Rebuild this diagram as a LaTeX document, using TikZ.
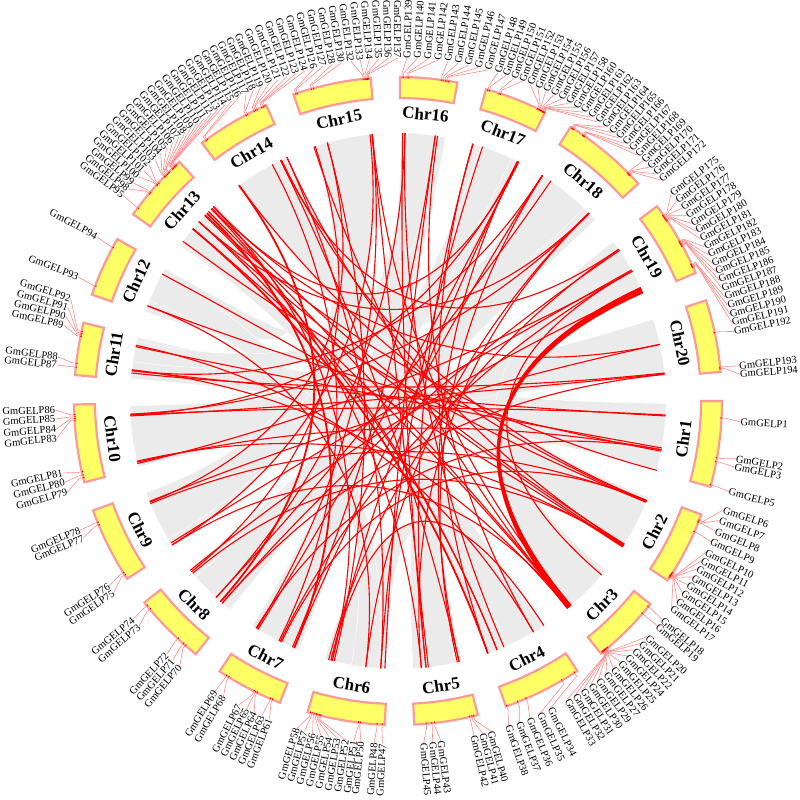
\documentclass[tikz,border=0pt]{standalone}
\usepackage{fontspec}
\setmainfont{Liberation Serif}
\definecolor{chrfill}{HTML}{FFFF66}
\definecolor{chredge}{HTML}{FF9999}
\definecolor{glinec}{HTML}{FF8C8C}
\definecolor{ribc}{HTML}{EBEBEB}
\definecolor{linkc}{HTML}{FF0000}
\tikzset{
  chrbox/.style={fill=chrfill,draw=chredge,line width=2.2pt},
  chrlabel/.style={font=\fontsize{17}{17}\selectfont\bfseries,inner sep=0pt},
  glabel/.style={font=\fontsize{10.5}{10.5}\selectfont,inner sep=0pt},
  gline/.style={draw=glinec,line width=0.6pt},
  gtick/.style={draw=linkc,line width=0.8pt},
  redlink/.style={draw=linkc,line width=1.1pt},
  thicklink/.style={line width=2.6pt},
  midlink/.style={line width=1.8pt},
  ribbon/.style={fill=ribc,draw=white,line width=0.4pt}
}
\newcommand\glab[3]{%
  \pgfmathsetmacro\gcos{cos(#2)}%
  \ifdim\gcos pt<0pt
    \pgfmathsetmacro\grot{#2+180}%
    \node[glabel,anchor=east,rotate=\grot] (g#3) at (#2:343) {GmGELP#3};
    \draw[gline] (#1:324) -- (#1:328) -- (g#3.east);
  \else
    \node[glabel,anchor=west,rotate=#2] (g#3) at (#2:343) {GmGELP#3};
    \draw[gline] (#1:324) -- (#1:328) -- (g#3.west);
  \fi
  \draw[gtick] (#1:322.6) -- (#1:324.2);
}
\newcommand\chrom[5]{%
  \draw[chrbox] (#2:303) arc[start angle=#2,end angle=#3,radius=303] -- (#3:324) arc[start angle=#3,end angle=#2,radius=324] -- cycle;
  \node[chrlabel,rotate=#5] (c#1) at (#4:288) {Chr#1};
}
\newcommand\lnk[3][]{\draw[redlink,#1] (#2:268) .. controls (#2:89) and (#3:89) .. (#3:268);}
\newcommand\rib[4]{\fill[ribbon] (#1:268) arc[start angle=#1,end angle=#2,radius=268] .. controls (#2:89) and (#3:89) .. (#3:268) arc[start angle=#3,end angle=#4,radius=268] .. controls (#4:89) and (#1:89) .. cycle;}
\begin{document}
\begin{tikzpicture}[x=1pt,y=1pt]
\useasboundingbox (-398,-399) rectangle (402,401);
\fill[white] (-398,-399) rectangle (402,401);
% background synteny ribbons
\rib{-0.5}{-14.8}{175.2}{166.2}
\rib{17.8}{5.5}{-165.8}{-179.0}
\rib{-21.0}{-33.3}{126.8}{114.3}
\rib{-39.2}{-50.8}{36.5}{23.8}
\rib{-56.8}{-70.2}{-92.7}{-105.8}
\rib{-76.1}{-86.8}{73.8}{63.4}
\rib{-128.9}{-141.2}{57.5}{42.5}
\rib{-147.0}{-160.0}{108.5}{95.2}
\rib{-111.7}{-123.0}{89.2}{79.8}
\rib{160.5}{150.4}{144.5}{132.8}
\rib{144.0}{137.0}{-57.5}{-66.0}
\rib{158.0}{151.5}{-94.0}{-100.0}
\rib{55.0}{46.0}{171.5}{167.0}
\rib{88.0}{81.0}{-149.0}{-158.0}
\rib{72.0}{65.0}{-132.0}{-139.0}
% red links
\lnk{-3.0}{-177.0}
\lnk{-3.2}{173.5}
\lnk{-10.1}{168.3}
\lnk{-10.8}{159.2}
\lnk{-10.5}{-166.8}
\lnk{-15.0}{136.0}
\lnk{5.8}{-176.8}
\lnk{6.0}{174.0}
\lnk{12.2}{133.5}
\lnk{5.7}{-131.0}
\lnk{-21.8}{115.8}
\lnk{-22.0}{126.4}
\lnk{-32.5}{114.5}
\lnk{-32.3}{134.0}
\lnk{-32.8}{138.0}
\lnk{-22.2}{143.4}
\lnk[thicklink]{24.0}{-50.0}
\lnk[thicklink]{24.6}{-50.6}
\lnk[midlink]{25.0}{-49.8}
\lnk{-40.5}{29.0}
\lnk{-50.2}{135.0}
\lnk{-50.6}{108.3}
\lnk{-49.8}{95.5}
\lnk{-50.4}{140.0}
\lnk{-57.0}{-104.5}
\lnk{-59.6}{81.5}
\lnk{-66.7}{88.5}
\lnk{-68.3}{136.2}
\lnk{-70.4}{73.8}
\lnk{-76.8}{63.5}
\lnk{-77.2}{57.3}
\lnk{-84.0}{89.0}
\lnk{-83.5}{95.6}
\lnk{-85.0}{44.5}
\lnk{-92.8}{82.0}
\lnk{-93.7}{71.6}
\lnk{-96.9}{44.6}
\lnk{-104.5}{63.3}
\lnk{-105.0}{34.5}
\lnk{-103.8}{105.3}
\lnk{-112.8}{57.4}
\lnk{-116.1}{29.0}
\lnk{-121.5}{63.2}
\lnk{-115.8}{-21.8}
\lnk{-122.0}{-10.5}
\lnk{-131.0}{34.2}
\lnk{-132.8}{55.2}
\lnk{-140.0}{-32.5}
\lnk{-140.8}{24.5}
\lnk{-147.5}{-50.3}
\lnk{-157.5}{-22.0}
\lnk{-158.0}{12.2}
\lnk{-148.0}{29.3}
\lnk{-167.0}{-32.7}
\lnk{-177.2}{44.4}
\lnk{173.3}{-50.7}
\lnk{168.0}{-59.6}
\lnk{151.7}{-33.0}
\lnk{159.2}{-96.9}
\lnk{134.2}{-85.0}
\lnk[midlink]{135.5}{-112.8}
\lnk{133.5}{-104.2}
\lnk{138.0}{-68.3}
\lnk[midlink]{140.0}{-70.4}
\lnk{116.0}{-76.8}
\lnk{118.0}{-116.4}
\lnk[midlink]{126.4}{-131.5}
\lnk{114.5}{-93.7}
\lnk{95.5}{-121.8}
\lnk{108.0}{-140.4}
\lnk{105.3}{-157.8}
\lnk{96.0}{-147.5}
\lnk{88.5}{-132.8}
\lnk{82.0}{-113.2}
\lnk{63.3}{133.5}
\lnk{44.5}{138.0}
\lnk{34.5}{116.0}
\lnk{29.0}{-166.5}
\lnk{57.4}{173.5}
\lnk{63.5}{-177.0}
\lnk{73.7}{-84.0}
% chromosomes
\chrom{1}{0}{-15.34}{-7.67}{82.33}
\chrom{2}{-20.53}{-33.65}{-27.09}{62.91}
\chrom{3}{-38.84}{-51.21}{-45.02}{44.98}
\chrom{4}{-56.39}{-70.54}{-63.47}{26.53}
\chrom{5}{-75.73}{-87.12}{-81.43}{8.57}
\chrom{6}{-92.32}{-106.20}{-99.26}{-9.26}
\chrom{7}{-111.38}{-123.42}{-117.40}{-27.40}
\chrom{8}{-128.62}{-141.53}{-135.07}{-45.07}
\chrom{9}{-146.71}{-160.26}{-153.49}{-63.49}
\chrom{10}{-165.46}{-179.39}{-172.42}{-82.42}
\chrom{11}{175.42}{166.02}{170.72}{80.72}
\chrom{12}{160.84}{150.01}{155.42}{65.42}
\chrom{13}{144.82}{132.43}{138.62}{48.62}
\chrom{14}{127.24}{114.01}{120.62}{30.62}
\chrom{15}{108.82}{94.83}{101.82}{11.82}
\chrom{16}{89.64}{79.41}{84.52}{-5.48}
\chrom{17}{74.22}{62.99}{68.60}{-21.40}
\chrom{18}{57.80}{42.14}{49.96}{-40.04}
\chrom{19}{36.95}{23.29}{30.11}{-59.89}
\chrom{20}{18.09}{5.16}{11.63}{-78.37}
% gene labels
\glab{-3.0}{-3.5}{1}
\glab{-10.1}{-9.7}{2}
\glab{-10.8}{-11.1}{3}
\glab{-15.0}{-15.3}{5}
\glab{-21.6}{-18.5}{6}
\glab{-21.8}{-20.4}{7}
\glab{-22.0}{-22.3}{8}
\glab{-23.8}{-24.2}{9}
\glab{-32.0}{-26.2}{10}
\glab{-32.2}{-27.76}{11}
\glab{-32.4}{-29.31}{12}
\glab{-32.5}{-30.87}{13}
\glab{-32.6}{-32.43}{14}
\glab{-32.7}{-33.98}{15}
\glab{-32.8}{-35.54}{16}
\glab{-33.0}{-37.1}{17}
\glab{-39.4}{-39.6}{18}
\glab{-41.0}{-40.9}{19}
\glab{-49.6}{-43.4}{20}
\glab{-49.8}{-44.95}{21}
\glab{-50.0}{-46.49}{22}
\glab{-50.1}{-48.04}{24}
\glab{-50.2}{-49.58}{25}
\glab{-50.3}{-51.13}{26}
\glab{-50.4}{-52.67}{27}
\glab{-50.5}{-54.22}{29}
\glab{-50.6}{-55.76}{30}
\glab{-50.7}{-57.31}{31}
\glab{-50.8}{-58.85}{32}
\glab{-50.9}{-60.4}{33}
\glab{-57.0}{-63.6}{34}
\glab{-59.6}{-65.5}{35}
\glab{-66.7}{-67.4}{36}
\glab{-68.3}{-69.3}{37}
\glab{-70.4}{-71.2}{38}
\glab{-76.5}{-74.3}{40}
\glab{-76.8}{-75.7}{41}
\glab{-77.2}{-77.2}{42}
\glab{-83.5}{-82.8}{43}
\glab{-84.0}{-84.2}{44}
\glab{-85.0}{-85.7}{45}
\glab{-92.8}{-92.6}{47}
\glab{-93.7}{-94.0}{48}
\glab{-96.7}{-96.2}{50}
\glab{-97.0}{-97.4}{51}
\glab{-103.8}{-98.8}{52}
\glab{-104.0}{-100.2}{53}
\glab{-104.3}{-101.6}{54}
\glab{-104.6}{-103.0}{55}
\glab{-105.0}{-104.4}{56}
\glab{-105.4}{-105.8}{57}
\glab{-105.7}{-107.2}{58}
\glab{-112.8}{-112.0}{61}
\glab{-113.2}{-113.4}{63}
\glab{-115.8}{-114.8}{64}
\glab{-116.1}{-116.2}{65}
\glab{-116.4}{-117.6}{67}
\glab{-121.5}{-120.6}{68}
\glab{-122.0}{-122.2}{69}
\glab{-131.0}{-129.5}{70}
\glab{-131.5}{-131.0}{71}
\glab{-132.8}{-132.4}{72}
\glab{-140.0}{-139.0}{73}
\glab{-140.8}{-140.5}{74}
\glab{-147.5}{-146.0}{75}
\glab{-148.0}{-147.4}{76}
\glab{-157.5}{-156.5}{77}
\glab{-158.0}{-157.9}{78}
\glab{-166.3}{-164.6}{79}
\glab{-166.8}{-166.3}{80}
\glab{-167.4}{-167.9}{81}
\glab{-176.6}{-173.8}{83}
\glab{-176.9}{-175.3}{84}
\glab{-177.2}{-177.0}{85}
\glab{-177.6}{-178.5}{86}
\glab{174.0}{174.0}{87}
\glab{173.3}{172.6}{88}
\glab{168.5}{167.2}{89}
\glab{168.2}{165.7}{90}
\glab{167.9}{164.2}{91}
\glab{167.6}{162.6}{92}
\glab{159.2}{158.8}{93}
\glab{151.7}{151.4}{94}
\glab{143.4}{143.2}{95}
\glab{140.2}{141.85}{98}
\glab{139.9}{140.51}{99}
\glab{138.2}{139.16}{100}
\glab{138.0}{137.82}{101}
\glab{137.7}{136.47}{102}
\glab{136.2}{135.13}{103}
\glab{136.0}{133.78}{104}
\glab{135.8}{132.44}{105}
\glab{135.5}{131.09}{106}
\glab{135.2}{129.75}{107}
\glab{135.0}{128.40}{108}
\glab{134.2}{127.06}{109}
\glab{134.0}{125.71}{110}
\glab{133.8}{124.37}{111}
\glab{133.6}{123.02}{112}
\glab{133.4}{121.68}{113}
\glab{133.2}{120.33}{114}
\glab{126.4}{118.99}{115}
\glab{126.1}{117.64}{116}
\glab{118.0}{116.30}{117}
\glab{117.7}{114.95}{118}
\glab{116.4}{113.6}{119}
\glab{116.1}{112.03}{120}
\glab{115.8}{110.46}{121}
\glab{114.9}{108.89}{122}
\glab{114.6}{107.32}{123}
\glab{114.3}{105.75}{124}
\glab{108.4}{104.19}{126}
\glab{108.1}{102.62}{127}
\glab{105.5}{101.05}{128}
\glab{105.1}{99.48}{130}
\glab{96.2}{97.91}{132}
\glab{96.0}{96.34}{133}
\glab{95.8}{94.77}{134}
\glab{95.6}{93.20}{135}
\glab{95.4}{91.63}{136}
\glab{95.2}{90.06}{137}
\glab{89.3}{88.5}{139}
\glab{89.0}{86.79}{140}
\glab{88.4}{85.08}{141}
\glab{88.1}{83.37}{142}
\glab{82.3}{81.66}{143}
\glab{82.0}{79.94}{144}
\glab{81.6}{78.23}{145}
\glab{81.3}{76.52}{146}
\glab{81.0}{74.81}{147}
\glab{73.9}{73.1}{148}
\glab{73.6}{71.67}{149}
\glab{71.8}{70.23}{150}
\glab{71.5}{68.80}{151}
\glab{64.5}{67.36}{152}
\glab{64.3}{65.93}{153}
\glab{64.1}{64.49}{154}
\glab{63.9}{63.06}{155}
\glab{63.7}{61.62}{156}
\glab{63.5}{60.19}{157}
\glab{63.4}{58.75}{158}
\glab{63.3}{57.32}{160}
\glab{63.2}{55.88}{161}
\glab{63.1}{54.45}{162}
\glab{57.5}{53.02}{163}
\glab{57.3}{51.58}{164}
\glab{57.1}{50.15}{165}
\glab{55.2}{48.71}{166}
\glab{55.0}{47.28}{167}
\glab{54.8}{45.84}{168}
\glab{44.8}{44.41}{169}
\glab{44.6}{42.97}{170}
\glab{44.4}{41.54}{171}
\glab{44.2}{40.1}{172}
\glab{35.0}{37.2}{175}
\glab{34.8}{35.7}{176}
\glab{34.6}{34.2}{177}
\glab{34.4}{32.7}{178}
\glab{34.2}{31.2}{179}
\glab{34.0}{29.7}{180}
\glab{33.8}{28.2}{181}
\glab{29.6}{26.7}{182}
\glab{29.4}{25.2}{183}
\glab{29.2}{23.7}{184}
\glab{29.0}{22.2}{185}
\glab{28.8}{20.7}{186}
\glab{28.6}{19.2}{187}
\glab{25.0}{17.7}{188}
\glab{24.8}{16.2}{189}
\glab{24.6}{14.7}{190}
\glab{24.4}{13.2}{191}
\glab{12.2}{11.7}{192}
\glab{6.0}{5.9}{193}
\glab{5.7}{4.5}{194}
\end{tikzpicture}
\end{document}
